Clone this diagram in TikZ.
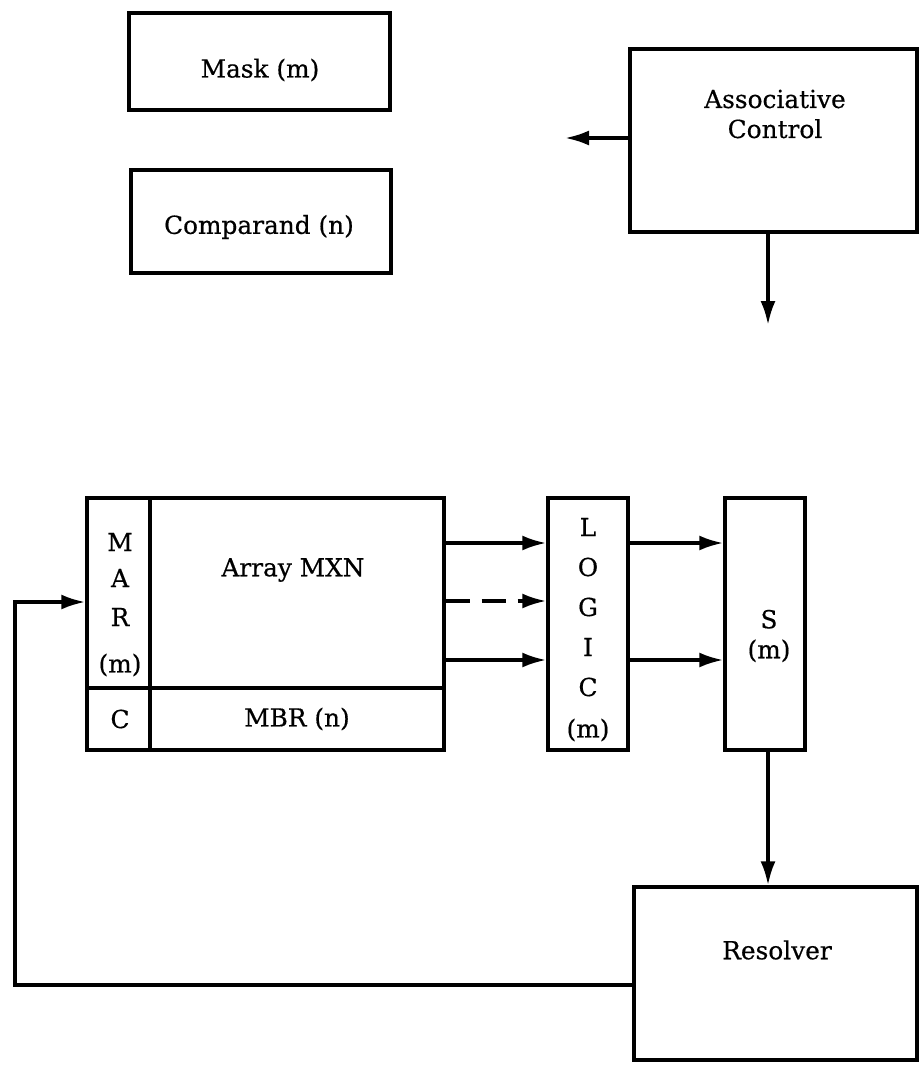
\documentclass[tikz,border=0pt]{standalone}
\usepackage{fontspec}
\setmainfont{DejaVu Serif}
\newfontfamily\boxfont{DejaVu Serif}[FakeBold=0.5]
\usetikzlibrary{arrows.meta}

\tikzset{
  blk/.style={draw, line width=1.7pt, inner sep=0pt},
  lbl/.style={font=\boxfont\fontsize{12.4}{15}\selectfont, inner sep=1pt},
  conn/.style={line width=1.7pt, -{Latex[length=12pt,width=7.5pt]}}
}

\begin{document}
\begin{tikzpicture}[x=0.5pt,y=-0.5pt]
  \useasboundingbox (0,0) rectangle (918,1070);
  % upper registers
  \node[blk, minimum width=130.5pt, minimum height=48.5pt] (mask) at (259.5,61.5) {};
  \node[lbl] (masktxt) at (260,70) {Mask (m)};
  \node[blk, minimum width=130pt, minimum height=51.5pt] (comp) at (261,221.5) {};
  \node[lbl] (comptxt) at (259,227) {Comparand (n)};
  \node[blk, minimum width=143.5pt, minimum height=91.5pt] (ac) at (773.5,140.5) {};
  \node[lbl, align=center] (actxt) at (775,114) {Associative\\Control};
  \coordinate (acleft) at (565,138);
  \coordinate (acdown) at (768,325);
  \draw[conn] (ac.west |- acleft) -- (acleft);
  \draw[conn] (ac.south -| acdown) -- (acdown);
  % array, logic, s
  \node[blk, minimum width=178.5pt, minimum height=126pt] (array) at (265.5,624) {};
  \coordinate (marx) at (150,0);
  \coordinate (mbry) at (0,688);
  \draw[line width=1.7pt] (array.north -| marx) -- (array.south -| marx);
  \draw[line width=1.7pt] (array.west |- mbry) -- (array.east |- mbry);
  \node[lbl] (m1) at (120,542) {M};
  \node[lbl] (m2) at (120,578) {A};
  \node[lbl] (m3) at (120,617) {R};
  \node[lbl] (m4) at (120,665) {(m)};
  \node[lbl] (ctxt) at (120,719) {C};
  \node[lbl] (arraytxt) at (293,570) {Array MXN};
  \node[lbl] (mbrtxt) at (297,719) {MBR (n)};
  \node[blk, minimum width=40pt, minimum height=126pt] (logic) at (588,624) {};
  \node[lbl] (l1) at (588,527) {L};
  \node[lbl] (l2) at (588,567) {O};
  \node[lbl] (l3) at (588,607) {G};
  \node[lbl] (l4) at (588,647) {I};
  \node[lbl] (l5) at (588,687) {C};
  \node[lbl] (l6) at (588,730) {(m)};
  \node[blk, minimum width=40pt, minimum height=126pt] (s) at (765,624) {};
  \node[lbl, align=center] (stxt) at (769,636) {S\\(m)};
  \coordinate (r1) at (0,543);
  \coordinate (r2) at (0,601);
  \coordinate (r3) at (0,660);
  \draw[conn] (array.east |- r1) -- (logic.west |- r1);
  \draw[conn, dashed, dash pattern=on 12pt off 6pt] (array.east |- r2) -- (logic.west |- r2);
  \draw[conn] (array.east |- r3) -- (logic.west |- r3);
  \draw[conn] (logic.east |- r1) -- (s.west |- r1);
  \draw[conn] (logic.east |- r3) -- (s.west |- r3);
  % resolver and feedback
  \node[blk, minimum width=141.5pt, minimum height=86.5pt] (res) at (775.5,973.5) {};
  \node[lbl] (restxt) at (777,950) {Resolver};
  \coordinate (sdown) at (768,0);
  \draw[conn] (s.south -| sdown) -- (res.north -| sdown);
  \coordinate (fb) at (15,985);
  \coordinate (marin) at (0,602);
  \draw[conn] (res.west |- fb) -- (fb) |- (array.west |- marin);
\end{tikzpicture}
\end{document}
